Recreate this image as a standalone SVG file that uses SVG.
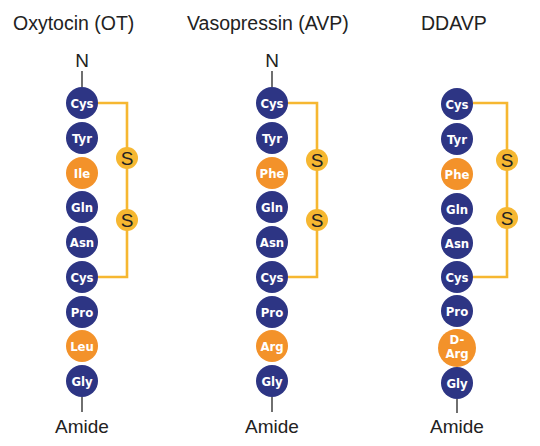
<svg xmlns="http://www.w3.org/2000/svg" width="540" height="446" viewBox="0 0 540 446">
<style>
.t{font-family:"Liberation Sans",Arial,sans-serif;font-size:19.5px;fill:#222}
.a{font-family:"DejaVu Sans Condensed","DejaVu Sans",sans-serif;font-weight:bold;font-size:13px;fill:#fff;text-anchor:middle}
.n{fill:#2d3584}
.o{fill:#f3922a}
.l{stroke:#222;stroke-width:1.3}
.b{fill:none;stroke:#f6b731;stroke-width:2.6}
.s{fill:#f6b731}
.st{font-family:"Liberation Sans",Arial,sans-serif;font-size:19px;fill:#222;text-anchor:middle}
</style>
<rect width="540" height="446" fill="#fff"/>
<text class="t" x="13" y="30">Oxytocin (OT)</text>
<text class="t" x="187" y="30">Vasopressin (AVP)</text>
<text class="t" x="421" y="30">DDAVP</text>
<g id="connectors">
<line class="l" x1="82" y1="71" x2="82" y2="87"/>
<line class="l" x1="82" y1="397" x2="82" y2="412"/>
<path class="b" d="M98 103H127V277H98"/>
<line class="l" x1="272" y1="71" x2="272" y2="87"/>
<line class="l" x1="272" y1="397" x2="272" y2="412"/>
<path class="b" d="M288 103H317V277H288"/>
<line class="l" x1="457" y1="399" x2="457" y2="413"/>
<path class="b" d="M473 103H507V277H473"/>
</g>
<g id="ot">
<text class="st" x="82" y="67">N</text>
<g id="ot-cys1"><circle class="n" cx="82" cy="103" r="16"/><text class="a" x="82" y="108">Cys</text></g>
<g id="ot-tyr"><circle class="n" cx="82" cy="138" r="16"/><text class="a" x="82" y="143">Tyr</text></g>
<g id="ot-ile"><circle class="o" cx="82" cy="173" r="16"/><text class="a" x="82" y="178">Ile</text></g>
<g id="ot-gln"><circle class="n" cx="82" cy="207" r="16"/><text class="a" x="82" y="212">Gln</text></g>
<g id="ot-asn"><circle class="n" cx="82" cy="242" r="16"/><text class="a" x="82" y="247">Asn</text></g>
<g id="ot-cys6"><circle class="n" cx="82" cy="277" r="16"/><text class="a" x="82" y="282">Cys</text></g>
<g id="ot-pro"><circle class="n" cx="82" cy="312" r="16"/><text class="a" x="82" y="317">Pro</text></g>
<g id="ot-leu"><circle class="o" cx="82" cy="346" r="16"/><text class="a" x="82" y="351">Leu</text></g>
<g id="ot-gly"><circle class="n" cx="82" cy="381" r="16"/><text class="a" x="82" y="386">Gly</text></g>
<g id="ot-s1"><circle class="s" cx="127" cy="158" r="11"/><text class="st" x="127" y="165">S</text></g>
<g id="ot-s2"><circle class="s" cx="127" cy="220" r="11"/><text class="st" x="127" y="227">S</text></g>
<text class="st" x="82" y="433">Amide</text>
</g>
<g id="avp">
<text class="st" x="272" y="67">N</text>
<g id="avp-cys1"><circle class="n" cx="272" cy="103" r="16"/><text class="a" x="272" y="108">Cys</text></g>
<g id="avp-tyr"><circle class="n" cx="272" cy="138" r="16"/><text class="a" x="272" y="143">Tyr</text></g>
<g id="avp-phe"><circle class="o" cx="272" cy="173" r="16"/><text class="a" x="272" y="178">Phe</text></g>
<g id="avp-gln"><circle class="n" cx="272" cy="207" r="16"/><text class="a" x="272" y="212">Gln</text></g>
<g id="avp-asn"><circle class="n" cx="272" cy="242" r="16"/><text class="a" x="272" y="247">Asn</text></g>
<g id="avp-cys6"><circle class="n" cx="272" cy="277" r="16"/><text class="a" x="272" y="282">Cys</text></g>
<g id="avp-pro"><circle class="n" cx="272" cy="312" r="16"/><text class="a" x="272" y="317">Pro</text></g>
<g id="avp-arg"><circle class="o" cx="272" cy="346" r="16"/><text class="a" x="272" y="351">Arg</text></g>
<g id="avp-gly"><circle class="n" cx="272" cy="381" r="16"/><text class="a" x="272" y="386">Gly</text></g>
<g id="avp-s1"><circle class="s" cx="317" cy="160" r="11"/><text class="st" x="317" y="167">S</text></g>
<g id="avp-s2"><circle class="s" cx="317" cy="220" r="11"/><text class="st" x="317" y="227">S</text></g>
<text class="st" x="272" y="433">Amide</text>
</g>
<g id="ddavp">
<g id="dd-cys1"><circle class="n" cx="457" cy="104" r="16"/><text class="a" x="457" y="109">Cys</text></g>
<g id="dd-tyr"><circle class="n" cx="457" cy="139" r="16"/><text class="a" x="457" y="144">Tyr</text></g>
<g id="dd-phe"><circle class="o" cx="457" cy="174" r="16"/><text class="a" x="457" y="179">Phe</text></g>
<g id="dd-gln"><circle class="n" cx="457" cy="209" r="16"/><text class="a" x="457" y="214">Gln</text></g>
<g id="dd-asn"><circle class="n" cx="457" cy="243" r="16"/><text class="a" x="457" y="248">Asn</text></g>
<g id="dd-cys6"><circle class="n" cx="457" cy="277" r="16"/><text class="a" x="457" y="282">Cys</text></g>
<g id="dd-pro"><circle class="n" cx="457" cy="311" r="16"/><text class="a" x="457" y="316">Pro</text></g>
<g id="dd-darg"><circle class="o" cx="457" cy="348" r="19"/><text class="a" x="457" y="344">D-</text><text class="a" x="457" y="358">Arg</text></g>
<g id="dd-gly"><circle class="n" cx="457" cy="383" r="16"/><text class="a" x="457" y="388">Gly</text></g>
<g id="dd-s1"><circle class="s" cx="507" cy="160" r="11"/><text class="st" x="507" y="167">S</text></g>
<g id="dd-s2"><circle class="s" cx="507" cy="218" r="11"/><text class="st" x="507" y="225">S</text></g>
<text class="st" x="457" y="433">Amide</text>
</g>
</svg>
